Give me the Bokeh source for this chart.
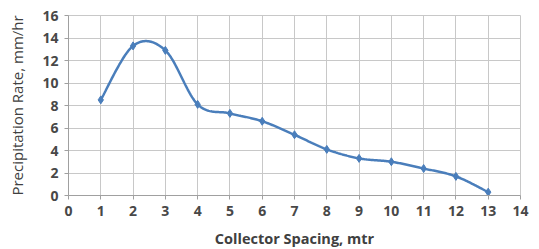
import numpy as np
from bokeh.plotting import figure
from bokeh.models import FixedTicker, Range1d
from bokeh.embed import file_html
from bokeh.resources import INLINE

spacing = [1, 2, 3, 4, 5, 6, 7, 8, 9, 10, 11, 12, 13]
rate = [8.5, 13.3, 12.9, 8.1, 7.3, 6.6, 5.4, 4.1, 3.3, 3.0, 2.4, 1.7, 0.3]
x_ticks = list(range(0, 15))
y_ticks = list(range(0, 17, 2))

def smooth(xs, ys, n=30):
    xs = np.asarray(xs, float); ys = np.asarray(ys, float)
    px = np.concatenate([[xs[0]], xs, [xs[-1]]])
    py = np.concatenate([[ys[0]], ys, [ys[-1]]])
    ox, oy = [], []
    t = np.linspace(0, 1, n)
    for i in range(1, len(px) - 2):
        p0 = np.array([px[i], py[i]]); p3 = np.array([px[i+1], py[i+1]])
        c1 = p0 + (np.array([px[i+1], py[i+1]]) - np.array([px[i-1], py[i-1]])) / 6
        c2 = p3 - (np.array([px[i+2], py[i+2]]) - np.array([px[i], py[i]])) / 6
        b = ((1-t)**3)[:, None]*p0 + (3*(1-t)**2*t)[:, None]*c1 + (3*(1-t)*t**2)[:, None]*c2 + (t**3)[:, None]*p3
        ox.extend(b[:, 0]); oy.extend(b[:, 1])
    return ox, oy

sx, sy = smooth(spacing, rate)

p = figure(frame_width=452, frame_height=180, output_backend="svg", toolbar_location=None,
           x_range=Range1d(0, 14), y_range=Range1d(0, 16),
           min_border_left=68, min_border_right=11, min_border_top=15, min_border_bottom=46)
p.line(sx, sy, line_color="#4a7ebb", line_width=2.5)
p.scatter(spacing, rate, marker="diamond", size=8, fill_color="#4a7ebb", line_color="#4a7ebb")

font = "Open Sans"
for ax in (p.xaxis[0], p.yaxis[0]):
    ax.major_label_text_font = font
    ax.major_label_text_font_size = "14px"
    ax.major_label_text_font_style = "bold"
    ax.major_label_text_color = "#484848"
    ax.axis_label_text_font = font
    ax.axis_label_text_font_size = "14.5px"
    ax.axis_label_text_color = "#404040"
    ax.axis_line_color = "#a0a0a0"
    ax.major_tick_line_color = "#a0a0a0"
    ax.major_tick_in = 0
    ax.major_tick_out = 4
    ax.minor_tick_line_color = None

p.xaxis.axis_label_text_font_style = "bold"
p.yaxis.axis_label_text_font_style = "normal"
p.yaxis.axis_label_text_font_size = "15px"
p.xaxis.ticker = FixedTicker(ticks=x_ticks)
p.yaxis.ticker = FixedTicker(ticks=y_ticks)
p.xaxis.axis_label = "Collector Spacing, mtr"
p.yaxis.axis_label = "Precipitation Rate, mm/hr"
p.yaxis.axis_label_standoff = 12
p.xaxis.axis_label_standoff = 10
p.xaxis.major_label_standoff = 6
p.yaxis.major_label_standoff = 6
p.xgrid.grid_line_color = "#c8c8c8"
p.ygrid.grid_line_color = "#c8c8c8"
p.xgrid.ticker = FixedTicker(ticks=x_ticks)
p.ygrid.ticker = FixedTicker(ticks=y_ticks)
p.outline_line_color = "#c8c8c8"

open("out.html", "w").write(file_html(p, INLINE))
